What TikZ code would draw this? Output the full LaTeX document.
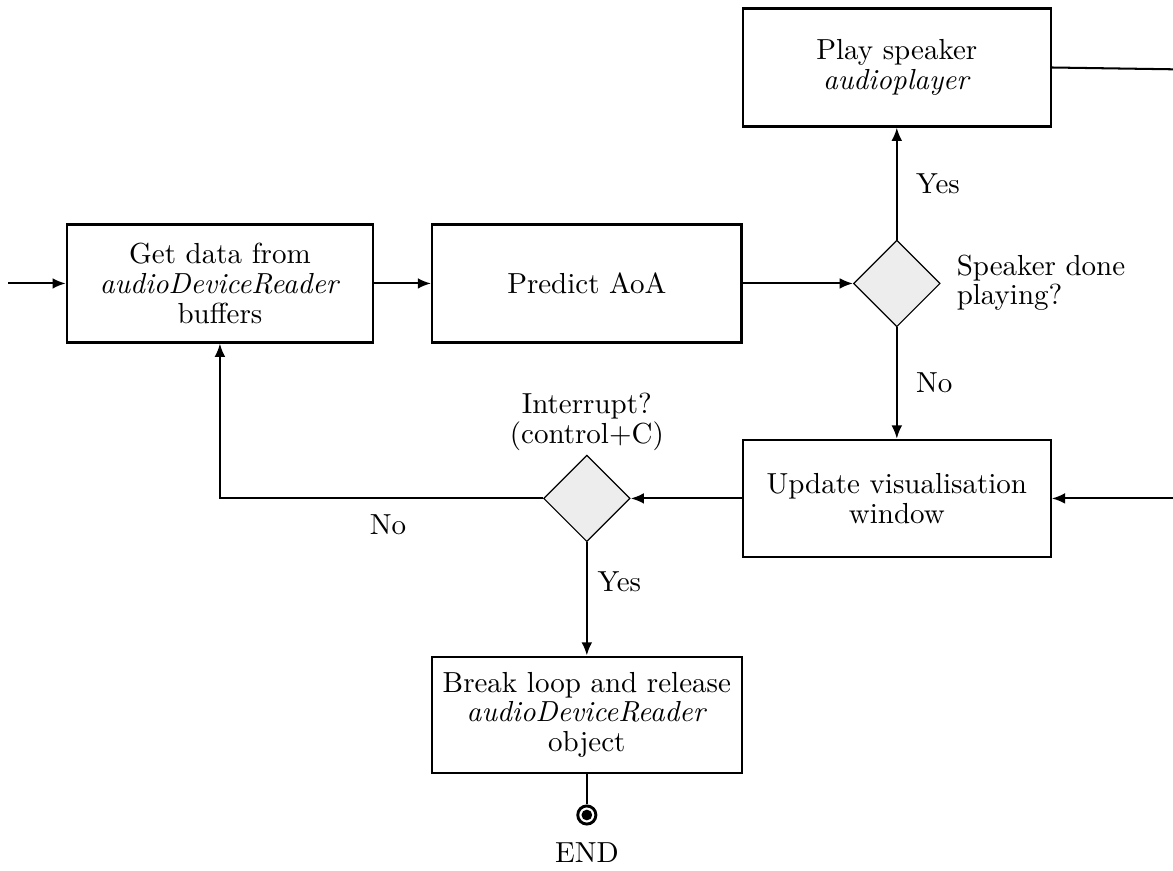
\documentclass[tikz,border=0pt]{standalone}
\usepackage{amsmath}
\usetikzlibrary{shapes.geometric,arrows.meta}

\tikzset{
  block/.style={draw,line width=0.8pt,align=center,minimum height=1.43cm,
    font=\fontsize{10pt}{10.2pt}\selectfont},
  decide/.style={draw,thin,diamond,fill=gray!14,minimum width=1.05cm,minimum height=1.05cm,inner sep=0pt},
  line/.style={line width=0.7pt,-{Latex[length=1.6mm,width=1.3mm]}}
}

\begin{document}
\begin{tikzpicture}[scale=1]
\useasboundingbox (0,0) rectangle (14.22,-10.55);

% main loop
\node[block,minimum width=3.71cm] (get) at (2.666,-3.436)
{Get data from\\\textit{audioDeviceReader}\\buffers};
\node[block,minimum width=3.75cm] (predict) at (7.114,-3.436) {Predict AoA};
\node[decide] (done) at (10.872,-3.436) {};
\node[align=left,font=\fontsize{10pt}{10.2pt}\selectfont] (donetxt) at (12.62,-3.43) {Speaker done\\playing?};
\node[block,minimum width=3.73cm] (play) at (10.872,-0.818)
{Play speaker\\\textit{audioplayer}};
\node[block,minimum width=3.73cm,minimum height=1.42cm] (update) at (10.872,-6.042)
{Update visualisation\\window};
\node[decide] (stop) at (7.114,-6.042) {};
\node[align=center,font=\fontsize{10pt}{10.2pt}\selectfont] (stoptxt) at (7.114,-5.115) {Interrupt?\\(control+C)};
\node[block,minimum width=3.76cm,minimum height=1.41cm] (brk) at (7.114,-8.666)
{Break loop and release\\\textit{audioDeviceReader}\\object};

% end point
\node[circle,draw,line width=1pt,minimum size=0.22cm,inner sep=0pt] (fin) at (7.114,-9.88) {};
\fill (fin) circle (0.065);
\node (fintxt) at (7.114,-10.33) {END};

\coordinate (in) at (0.1,-3.436);
\coordinate (out) at (14.22,-0.84);
\coordinate (back) at (14.22,-6.042);

\draw[line] (in) -- (get);
\draw[line] (get) -- (predict);
\draw[line] (predict) -- (done);
\draw[line] (done) -- node[right,pos=0.5,xshift=3pt] (yes1) {Yes} (play);
\draw[line] (done) -- node[right,pos=0.5,xshift=3pt] (no1) {No} (update);
\draw[line] (update) -- (stop);
\draw[line] (stop.west) -| node[below,pos=0.24,yshift=-2pt] (no2) {No} (get.south);
\draw[line] (stop) -- node[right,pos=0.35] (yes2) {Yes} (brk);
\draw[line width=0.7pt] (brk) -- (fin);
\draw[line width=0.7pt] (play.east) -- (out);
\draw[line] (back) -- (update);
\end{tikzpicture}
\end{document}
